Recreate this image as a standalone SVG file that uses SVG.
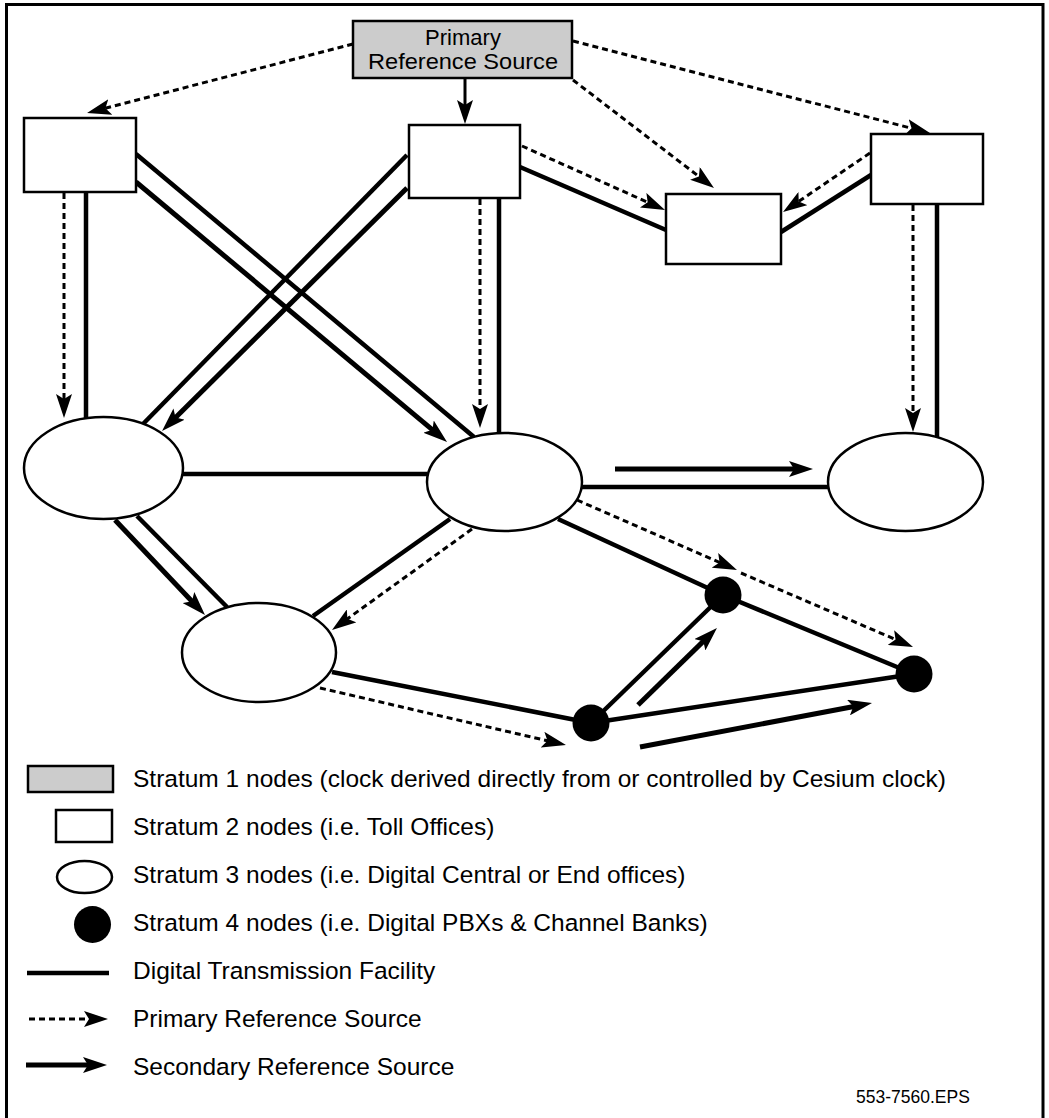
<svg xmlns="http://www.w3.org/2000/svg" width="1049" height="1118" viewBox="0 0 1049 1118">
<style>
.txt{font-family:"Liberation Sans",Arial,sans-serif;fill:#000}
.node{fill:#fff;stroke:#000;stroke-width:2.5}
.s1{fill:#cccccc;stroke:#000;stroke-width:2.5}
.dot{fill:#000}
.fac{stroke:#000;stroke-width:4.5;fill:none}
.pri{stroke:#000;stroke-width:3;stroke-dasharray:6 4;fill:none;marker-end:url(#ah)}
.sec{stroke:#000;stroke-width:5;fill:none;marker-end:url(#ah)}
.thin{stroke:#000;stroke-width:3;fill:none;marker-end:url(#ah)}
</style>
<defs>
<marker id="ah" markerUnits="userSpaceOnUse" markerWidth="24" markerHeight="16" refX="7" refY="8" orient="auto" viewBox="0 0 24 16">
<path d="M0,0 L24,8 L0,16 L5,8 Z" fill="#000"/>
</marker>
</defs>
<rect x="6.5" y="4.5" width="1036.5" height="1116" fill="#fff" stroke="#000" stroke-width="3"/>
<g id="connectors">
<line class="pri" x1="353" y1="44" x2="103.5" y2="108.7"/>
<line class="thin" x1="465" y1="79" x2="465" y2="107"/>
<line class="pri" x1="573" y1="80" x2="700.5" y2="177.7"/>
<line class="pri" x1="573" y1="41" x2="913.5" y2="128.8"/>
<line class="pri" x1="64" y1="193" x2="64" y2="401"/>
<line class="fac" x1="86" y1="192" x2="86" y2="418"/>
<line class="fac" x1="136" y1="154" x2="474" y2="437"/>
<line class="sec" x1="136" y1="182" x2="434" y2="431.1"/>
<line class="fac" x1="407" y1="155" x2="143" y2="424"/>
<line class="sec" x1="407" y1="188" x2="174.1" y2="419"/>
<line class="pri" x1="480" y1="199" x2="480" y2="411"/>
<line class="fac" x1="499" y1="198" x2="499" y2="433"/>
<line class="pri" x1="522" y1="146" x2="649.5" y2="203.1"/>
<line class="fac" x1="520" y1="167" x2="666" y2="230"/>
<line class="pri" x1="870" y1="153" x2="797.1" y2="202.5"/>
<line class="fac" x1="871" y1="175" x2="781" y2="232"/>
<line class="pri" x1="913" y1="205" x2="913" y2="415"/>
<line class="fac" x1="937" y1="204" x2="937" y2="437"/>
<line class="fac" x1="183" y1="474" x2="427" y2="474"/>
<line class="fac" x1="582" y1="487" x2="828" y2="487"/>
<line class="sec" x1="615" y1="469" x2="796" y2="469"/>
<line class="sec" x1="115" y1="520" x2="193.3" y2="602.7"/>
<line class="fac" x1="137" y1="516" x2="227" y2="607"/>
<line class="fac" x1="450" y1="519" x2="313" y2="616"/>
<line class="pri" x1="472" y1="529" x2="345.8" y2="620"/>
<line class="fac" x1="558" y1="519" x2="723" y2="595"/>
<line class="pri" x1="577" y1="500" x2="721.4" y2="563.2"/>
<line class="pri" x1="741" y1="573" x2="897.4" y2="640.3"/>
<line class="fac" x1="723" y1="595" x2="914" y2="674"/>
<line class="fac" x1="591" y1="723" x2="914" y2="674"/>
<line class="fac" x1="591" y1="723" x2="723" y2="595"/>
<line class="fac" x1="332" y1="672" x2="591" y2="723"/>
<line class="pri" x1="320" y1="688" x2="549.4" y2="741.2"/>
<line class="sec" x1="638" y1="705" x2="704.8" y2="639.9"/>
<line class="sec" x1="640" y1="747" x2="855.3" y2="706.2"/>
</g>
<g id="prs">
<rect class="s1" x="353" y="21" width="219" height="57"/>
<text class="txt" x="463" y="45" font-size="22" text-anchor="middle">Primary</text>
<text class="txt" x="463" y="69" font-size="22" text-anchor="middle" textLength="190" lengthAdjust="spacingAndGlyphs">Reference Source</text>
</g>
<g id="toll-a"><rect class="node" x="24" y="118" width="112" height="74"/></g>
<g id="toll-b"><rect class="node" x="409" y="125" width="111" height="73"/></g>
<g id="toll-c"><rect class="node" x="666" y="194" width="115" height="70"/></g>
<g id="toll-d"><rect class="node" x="871" y="134" width="112" height="70"/></g>
<g id="end-1"><ellipse class="node" cx="103.5" cy="468" rx="79.5" ry="51"/></g>
<g id="end-2"><ellipse class="node" cx="504.5" cy="482" rx="77.5" ry="49"/></g>
<g id="end-3"><ellipse class="node" cx="905.5" cy="482" rx="77.5" ry="49"/></g>
<g id="end-4"><ellipse class="node" cx="259" cy="652.5" rx="77" ry="49.5"/></g>
<g id="pbx-1"><circle class="dot" cx="723" cy="595" r="18.5"/></g>
<g id="pbx-2"><circle class="dot" cx="914" cy="674" r="18.5"/></g>
<g id="pbx-3"><circle class="dot" cx="591" cy="723" r="18.5"/></g>
<g id="legend">
<rect class="s1" x="28" y="766" width="85" height="26"/>
<rect class="node" x="56" y="810" width="56" height="32"/>
<ellipse class="node" cx="84.5" cy="877" rx="27.5" ry="16"/>
<circle class="dot" cx="92.5" cy="924.5" r="18.5"/>
<line class="fac" x1="27" y1="973" x2="109" y2="973"/>
<line class="pri" x1="29" y1="1019" x2="91" y2="1019"/>
<line class="sec" x1="26" y1="1065" x2="90" y2="1065"/>
<text class="txt" x="133" y="787" font-size="24.5">Stratum 1 nodes (clock derived directly from or controlled by Cesium clock)</text>
<text class="txt" x="133" y="835" font-size="24.5">Stratum 2 nodes (i.e. Toll Offices)</text>
<text class="txt" x="133" y="883" font-size="24.5">Stratum 3 nodes (i.e. Digital Central or End offices)</text>
<text class="txt" x="133" y="931" font-size="24.5">Stratum 4 nodes (i.e. Digital PBXs &amp; Channel Banks)</text>
<text class="txt" x="133" y="979" font-size="24.5">Digital Transmission Facility</text>
<text class="txt" x="133" y="1027" font-size="24.5">Primary Reference Source</text>
<text class="txt" x="133" y="1075" font-size="24.5">Secondary Reference Source</text>
<text class="txt" x="856" y="1103" font-size="17.5">553-7560.EPS</text>
</g>
</svg>
